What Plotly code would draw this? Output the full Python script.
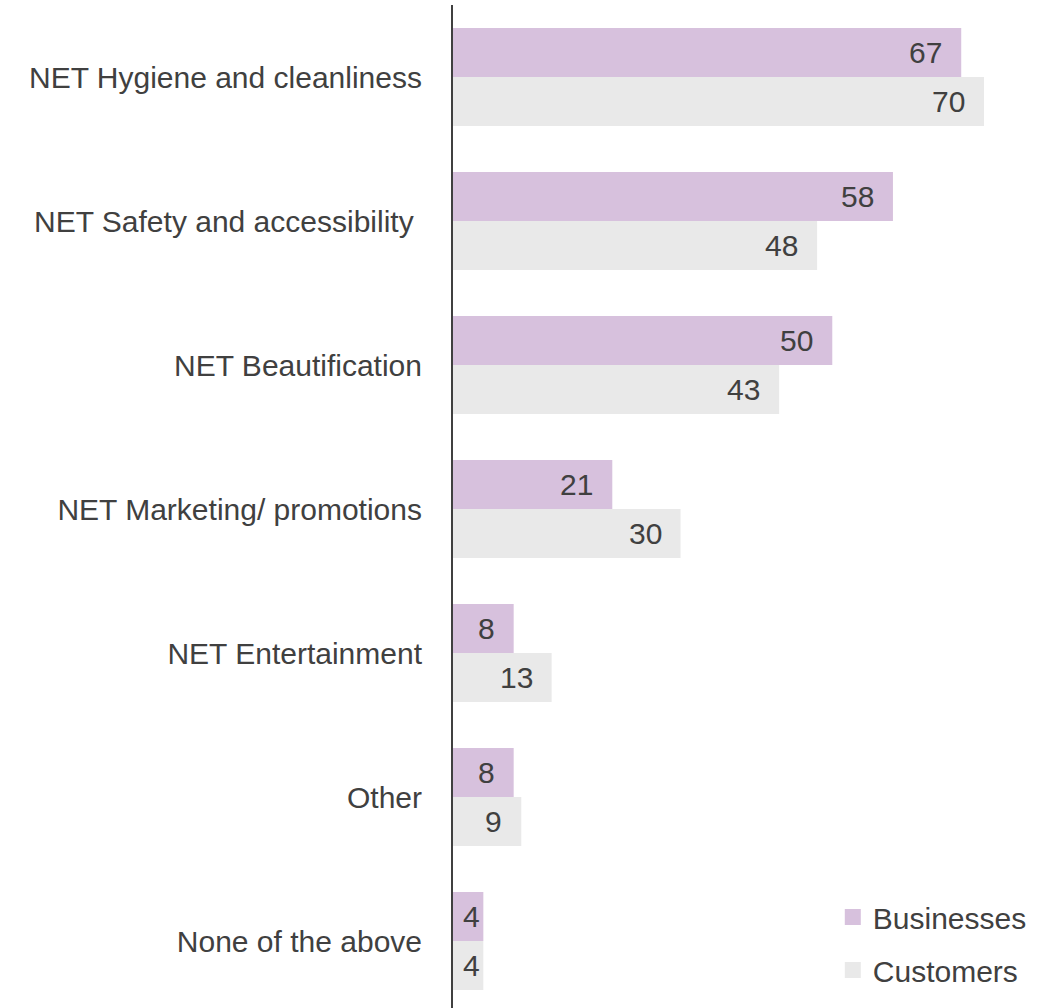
import plotly.graph_objects as go

categories = ["NET Hygiene and cleanliness", "NET Safety and accessibility\u00a0",
              "NET Beautification", "NET Marketing/ promotions",
              "NET Entertainment", "Other", "None of the above"]
businesses = [67, 58, 50, 21, 8, 8, 4]
customers = [70, 48, 43, 30, 13, 9, 4]
series_names = ["Businesses", "Customers"]

PURPLE = "#D7C1DD"
GRAY = "#E9E9E9"
TEXT = "#404040"
FONT = "Liberation Sans"
FS = 30

fig = go.Figure()
for name, vals, col in ((series_names[0], businesses, PURPLE), (series_names[1], customers, GRAY)):
    fig.add_trace(go.Bar(name=name, y=categories, x=vals, orientation="h",
                         marker=dict(color=col, line=dict(width=0)), showlegend=False))
# legend entries with larger square swatches
for i, (name, col) in enumerate(((series_names[0], PURPLE), (series_names[1], GRAY))):
    fig.add_trace(go.Scatter(name=name, x=[None], y=[None], mode="markers",
                             marker=dict(symbol="square", size=16, color=col),
                             legendgroup=name, showlegend=True))

annotations = []
for i, c in enumerate(categories):
    for vals, shift in ((businesses, 24.5), (customers, -24.5)):
        v = vals[i]
        annotations.append(dict(x=v, y=c, xref="x", yref="y", text=str(v),
                                showarrow=False, xanchor="right", yanchor="middle",
                                xshift=(-1 if v < 6 else -17), yshift=shift,
                                font=dict(family=FONT, size=FS, color=TEXT)))

fig.update_layout(
    width=1053, height=1008,
    margin=dict(l=453, r=0, t=5, b=0),
    paper_bgcolor="white", plot_bgcolor="white",
    barmode="group", bargap=0.32, bargroupgap=0,
    font=dict(family=FONT, size=FS, color=TEXT),
    showlegend=True,
    legend=dict(x=0.633, y=0.012, xanchor="left", yanchor="bottom",
                font=dict(family=FONT, size=FS, color=TEXT),
                tracegroupgap=11, bgcolor="rgba(0,0,0,0)", itemwidth=30,
                itemsizing="trace"),
    annotations=annotations,
)
fig.update_xaxes(range=[0, 79.1], showgrid=False, zeroline=False, showticklabels=False,
                 showline=False)
fig.update_yaxes(range=[6.465, -0.5], showgrid=False, zeroline=False, showline=True,
                 linecolor="#404040", linewidth=2, ticks="", ticklabelstandoff=23,
                 tickfont=dict(family=FONT, size=FS, color=TEXT))

fig.write_html("out.html")
